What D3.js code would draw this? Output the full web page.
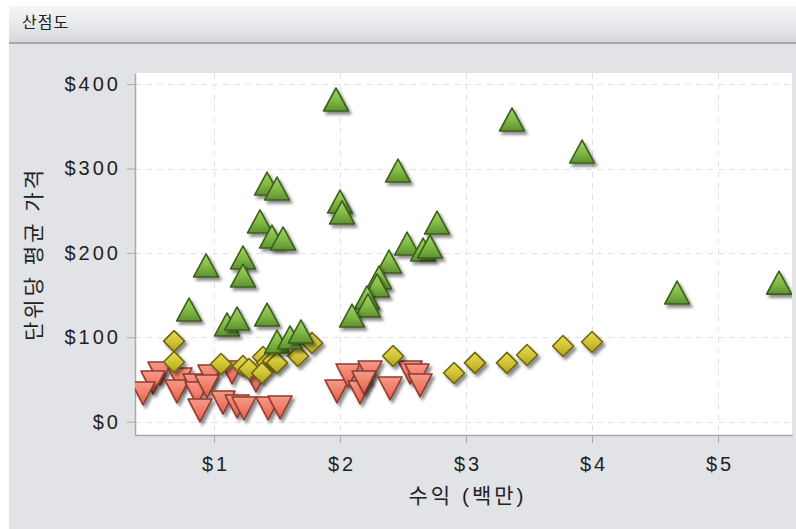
<!DOCTYPE html>
<html><head><meta charset="utf-8">
<script src="https://cdn.jsdelivr.net/npm/d3@7"></script>
<style>
html,body{margin:0;padding:0;background:#fff;}
svg{display:block;}
text{font-family:"Liberation Sans","Noto Sans CJK KR",sans-serif;fill:#222;}
</style></head>
<body>
<svg id="c" width="796" height="529"></svg>
<script>
const title = "산점도";
const xTitle = "수익 (백만)";
const yTitle = "단위당 평균 가격";
const xTicks = [1, 2, 3, 4, 5];
const yTicks = [0, 100, 200, 300, 400];

// green up-triangles: [revenue (M$), avg price]
const greenX = [1.968,3.365,3.921,2.460,1.421,1.500,2.000,2.016,1.365,1.460,1.548,2.770,2.532,2.659,2.714,2.389,0.937,1.230,1.230,2.310,2.294,2.214,2.222,2.095,0.802,1.103,1.183,1.421,1.500,1.603,1.690,4.675,5.484];
const greenY = [381.2,357.5,319.5,297.0,281.6,275.7,260.3,247.3,236.7,218.8,216.5,235.4,210.5,203.4,207.0,189.2,184.5,194.0,172.6,170.3,160.8,146.6,137.1,125.2,132.3,114.6,121.7,126.4,94.4,99.2,106.3,152.4,164.2];
// red down-triangles
const redX = [0.571,0.516,0.437,0.730,0.706,0.849,0.865,0.968,0.944,1.143,0.889,1.071,1.183,1.238,1.429,1.524,1.333,1.976,2.063,2.159,2.238,2.190,2.397,2.556,2.611,2.635];
const redY = [57.7,47.0,34.0,50.6,36.4,43.5,34.0,54.1,42.3,58.9,13.9,23.3,18.6,16.2,16.2,17.4,49.4,36.4,55.3,35.2,58.9,47.0,39.9,58.9,55.3,43.5];
// yellow diamonds
const yelX = [0.683,0.683,1.056,1.230,1.278,1.389,1.421,1.468,1.500,1.381,1.667,1.778,2.421,2.905,3.071,3.325,3.484,3.770,4.000];
const yelY = [95.4,70.7,68.4,66.0,62.4,76.7,69.6,72.0,69.6,57.7,77.8,93.2,77.8,57.7,69.6,69.6,79.0,89.7,94.4];

const svg = d3.select("#c");
const W = 796, H = 529;
const P = {left:135, right:792, top:73, bottom:435};

const defs = svg.append("defs");
function grad(id, c1, c2, c3){
  const g = defs.append("linearGradient").attr("id", id).attr("x1",0).attr("y1",0).attr("x2",0).attr("y2",1);
  g.append("stop").attr("offset","0%").attr("stop-color",c1);
  g.append("stop").attr("offset","55%").attr("stop-color",c2);
  g.append("stop").attr("offset","100%").attr("stop-color",c3);
}
grad("gG","#a6d56b","#7fb843","#5d9130");
grad("gR","#f59a88","#f07a66","#d95f4c");
grad("gY","#e6dc55","#cfc232","#aea021");
grad("hdr","#f5f6f8","#e6e7ea","#d3d5d9");
const f = defs.append("filter").attr("id","sh").attr("x","-50%").attr("y","-50%").attr("width","200%").attr("height","200%");
f.append("feDropShadow").attr("dx",2.5).attr("dy",3).attr("stdDeviation",1.6).attr("flood-color","#000").attr("flood-opacity",0.45);

// background
svg.append("rect").attr("width",W).attr("height",H).attr("fill","#fff");
svg.append("rect").attr("x",9).attr("y",6).attr("width",W-9).attr("height",H-6).attr("fill","#e2e3e7");
svg.append("rect").attr("x",9).attr("y",6).attr("width",W-9).attr("height",37).attr("fill","url(#hdr)");
svg.append("rect").attr("x",9).attr("y",42).attr("width",W-9).attr("height",2).attr("fill","#a4a7ac");
svg.append("text").attr("x",22).attr("y",28).attr("font-size",16).attr("letter-spacing",1).text(title);

const x = d3.scaleLinear().domain([0.373, 5.587]).range([P.left, P.right]);
const y = d3.scaleLinear().domain([-15.8, 413.2]).range([P.bottom, P.top]);

svg.append("rect").attr("x",P.left).attr("y",P.top).attr("width",P.right-P.left).attr("height",P.bottom-P.top).attr("fill","#fff");

// grid
const grid = svg.append("g").attr("stroke","#e3e3e3").attr("stroke-dasharray","6,5").attr("stroke-width",1);
grid.selectAll("line.v").data(xTicks).join("line")
  .attr("x1",d=>Math.round(x(d))+0.5).attr("x2",d=>Math.round(x(d))+0.5).attr("y1",P.top).attr("y2",P.bottom);
grid.selectAll("line.h").data(yTicks).join("line")
  .attr("y1",d=>Math.round(y(d))+0.5).attr("y2",d=>Math.round(y(d))+0.5).attr("x1",P.left).attr("x2",P.right);

// axes
const xAxis = svg.append("g").attr("transform",`translate(0,${P.bottom})`)
  .call(d3.axisBottom(x).tickValues(xTicks).tickFormat(d=>"$"+d).tickSize(8).tickPadding(14).tickSizeOuter(0));
const yAxis = svg.append("g").attr("transform",`translate(${P.left},0)`)
  .call(d3.axisLeft(y).tickValues(yTicks).tickFormat(d=>"$"+d).tickSize(8).tickPadding(6).tickSizeOuter(0));
[xAxis,yAxis].forEach(a=>{
  a.select(".domain").attr("stroke","#a9a9a9").attr("stroke-width",1.5);
  a.selectAll(".tick line").attr("stroke","#a9a9a9");
  a.selectAll(".tick text").attr("font-size",20).attr("fill","#222").attr("letter-spacing",3)
   .attr("font-family",'"Liberation Sans",sans-serif');
});
xAxis.selectAll(".tick text").attr("dx",1.5);

svg.append("text").attr("x",(P.left+P.right)/2 + 4).attr("y",503).attr("text-anchor","middle")
  .attr("font-size",21).attr("letter-spacing",3).text(xTitle);
svg.append("text").attr("transform","translate(41,254) rotate(-90)").attr("text-anchor","middle")
  .attr("font-size",21).attr("letter-spacing",3).text(yTitle);

// markers
const clip = defs.append("clipPath").attr("id","pc");
clip.append("rect").attr("x",P.left).attr("y",P.top-15).attr("width",P.right-P.left).attr("height",P.bottom-P.top+15);
const mk = svg.append("g").attr("clip-path","url(#pc)");

const triUp = "M0,-12 L12.5,11 L-12.5,11 Z";
const triDn = "M0,12 L12,-11 L-12,-11 Z";
const dia = "M0,-10.5 L10.5,0 L0,10.5 L-10.5,0 Z";

function plot(xs, ys, path, fill, stroke){
  mk.append("g").selectAll("path").data(xs.map((v,i)=>[v,ys[i]])).join("path")
    .attr("transform",d=>`translate(${x(d[0])},${y(d[1])})`)
    .attr("d",path).attr("fill",fill).attr("stroke",stroke).attr("stroke-width",1.6)
    .attr("stroke-linejoin","round").attr("filter","url(#sh)");
}
plot(redX, redY, triDn, "url(#gR)", "#8e3b2e");
plot(yelX, yelY, dia, "url(#gY)", "#6e6512");
plot(greenX, greenY, triUp, "url(#gG)", "#3c5e1d");
</script>
</body></html>
